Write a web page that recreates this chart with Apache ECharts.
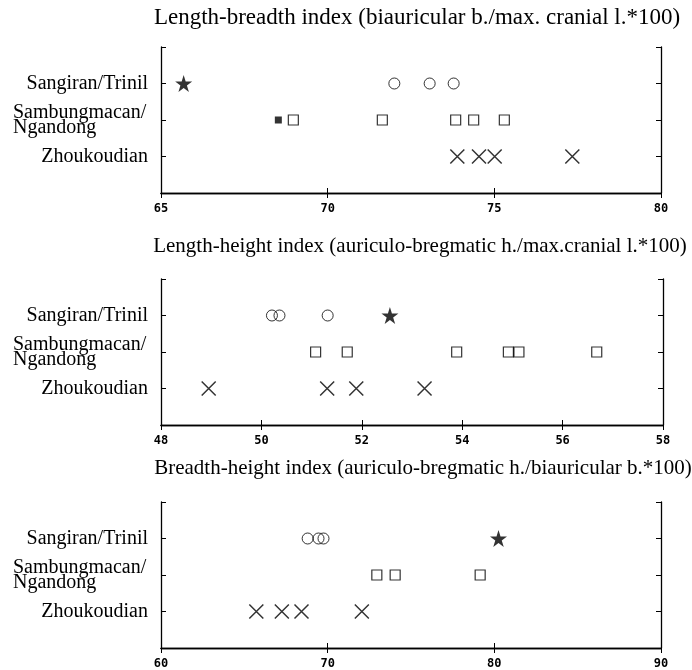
<!DOCTYPE html>
<html>
<head>
<meta charset="utf-8">
<script src="https://cdn.jsdelivr.net/npm/echarts@6/dist/echarts.min.js"></script>
<style>
html,body{margin:0;padding:0;background:#fff;}
#chart{width:692px;height:670px;}
</style>
</head>
<body>
<div id="chart"></div>
<script>
// ---- Data ----
var rowLabels = ['Zhoukoudian', 'Sambungmacan/\nNgandong', 'Sangiran/Trinil']; // rows 1,2,3
var panelTitles = [
  'Length-breadth index (biauricular b./max. cranial l.*100)',
  'Length-height index (auriculo-bregmatic h./max.cranial l.*100)',
  'Breadth-height index (auriculo-bregmatic h./biauricular b.*100)'
];
var xMins = [65, 48, 60];
var xMaxs = [80, 58, 90];
var xSteps = [5, 2, 10];

// Length-breadth index
var lbSangiranCircles = [72.0, 73.06, 73.78];
var lbSangiranStar = [65.68];
var lbSambungSquares = [68.97, 71.64, 73.84, 74.38, 75.3];
var lbSambungFilled = [68.52];
var lbZhoukoudian = [73.89, 74.54, 75.01, 77.34];

// Length-height index
var lhSangiranCircles = [50.21, 50.36, 51.32];
var lhSangiranStar = [52.56];
var lhSambungSquares = [51.08, 51.71, 53.89, 54.92, 55.13, 56.68];
var lhSambungFilled = [];
var lhZhoukoudian = [48.95, 51.31, 51.89, 53.25];

// Breadth-height index
var bhSangiranCircles = [68.8, 69.45, 69.75];
var bhSangiranStar = [80.25];
var bhSambungSquares = [72.95, 74.05, 79.15];
var bhSambungFilled = [];
var bhZhoukoudian = [65.72, 67.25, 68.43, 72.05];

var panels = [
  {circles: lbSangiranCircles, star: lbSangiranStar, squares: lbSambungSquares, filled: lbSambungFilled, xs: lbZhoukoudian},
  {circles: lhSangiranCircles, star: lhSangiranStar, squares: lhSambungSquares, filled: lhSambungFilled, xs: lhZhoukoudian},
  {circles: bhSangiranCircles, star: bhSangiranStar, squares: bhSambungSquares, filled: bhSambungFilled, xs: bhZhoukoudian}
];

// ---- Layout ----
var gridTops = [47, 279, 502];
var gridWidths = [500, 502, 500];
var titleTops = [6, 236, 458];
var titleCenters = [417, 420, 423];
var titleSizes = [23, 21, 21];

var STAR = 'path://M50,0L61.2,34.5L97.6,34.5L68.2,55.9L79.4,90.5L50,69.1L20.6,90.5L31.8,55.9L2.4,34.5L38.8,34.5Z';
var CROSS = 'path://M0,0L10,10M10,0L0,10';

var option = {
  backgroundColor: '#fff',
  animation: false,
  title: [], grid: [], xAxis: [], yAxis: [], series: []
};

function pts(vals, row) { return vals.map(function (v) { return [v, row]; }); }

for (var p = 0; p < 3; p++) {
  option.title.push({
    text: panelTitles[p], left: titleCenters[p], top: titleTops[p], textAlign: 'center', padding: 0,
    textStyle: {fontFamily: 'Liberation Serif', fontSize: titleSizes[p], fontWeight: 'normal', color: '#000'}
  });
  option.grid.push({left: 161, top: gridTops[p], width: gridWidths[p], height: 146, show: false});
  var tickStyle = {show: true, inside: true, length: 5, lineStyle: {color: '#000', width: 1}};
  var lineStyle = {show: true, lineStyle: {color: '#000', width: 1.3}};
  option.xAxis.push({
    type: 'value', gridIndex: p, position: 'bottom', min: xMins[p], max: xMaxs[p], interval: xSteps[p],
    axisLine: lineStyle, axisTick: tickStyle, splitLine: {show: false},
    axisLabel: {margin: 10, color: '#000', fontFamily: 'DejaVu Sans Mono', fontWeight: 'bold', fontSize: 12}
  });
  option.xAxis.push({
    type: 'value', gridIndex: p, position: 'top', min: xMins[p], max: xMaxs[p], interval: xSteps[p],
    axisLine: lineStyle, axisTick: tickStyle, splitLine: {show: false}, axisLabel: {show: false}
  });
  option.yAxis.push({
    type: 'value', gridIndex: p, position: 'left', min: 0, max: 4, interval: 1,
    axisLine: lineStyle, axisTick: tickStyle, splitLine: {show: false},
    axisLabel: {
      margin: 13, color: '#000', align: 'right',
      formatter: function (v) {
        if (v === 2) return '{m|Sambungmacan/}\n{m|Ngandong}';
        if (v >= 1 && v <= 3) return '{s|' + rowLabels[v - 1] + '}';
        return '';
      },
      rich: {
        s: {fontFamily: 'Liberation Serif', fontSize: 20, color: '#000'},
        m: {fontFamily: 'Liberation Serif', fontSize: 20, color: '#000', width: 135, align: 'left', lineHeight: 15}
      }
    }
  });
  option.yAxis.push({
    type: 'value', gridIndex: p, position: 'right', min: 0, max: 4, interval: 1,
    axisLine: lineStyle, axisTick: tickStyle, splitLine: {show: false}, axisLabel: {show: false}
  });
  var xi = p * 2, yi = p * 2;
  var d = panels[p];
  option.series.push({
    type: 'scatter', xAxisIndex: xi, yAxisIndex: yi, data: pts(d.circles, 3),
    symbol: 'circle', symbolSize: 11,
    itemStyle: {color: 'rgba(0,0,0,0)', borderColor: '#000', borderWidth: 1}
  });
  option.series.push({
    type: 'scatter', xAxisIndex: xi, yAxisIndex: yi, data: pts(d.star, 3),
    symbol: STAR, symbolSize: 17, itemStyle: {color: '#000'}
  });
  option.series.push({
    type: 'scatter', xAxisIndex: xi, yAxisIndex: yi, data: pts(d.squares, 2),
    symbol: 'rect', symbolSize: 10,
    itemStyle: {color: 'rgba(0,0,0,0)', borderColor: '#000', borderWidth: 1.2}
  });
  option.series.push({
    type: 'scatter', xAxisIndex: xi, yAxisIndex: yi, data: pts(d.filled, 2),
    symbol: 'rect', symbolSize: 7, itemStyle: {color: '#000'}
  });
  option.series.push({
    type: 'scatter', xAxisIndex: xi, yAxisIndex: yi, data: pts(d.xs, 1),
    symbol: CROSS, symbolSize: 14,
    itemStyle: {color: 'none', borderColor: '#000', borderWidth: 1.5}
  });
}

var chart = echarts.init(document.getElementById('chart'), null, {renderer: 'canvas'});
chart.setOption(option);
</script>
</body>
</html>
